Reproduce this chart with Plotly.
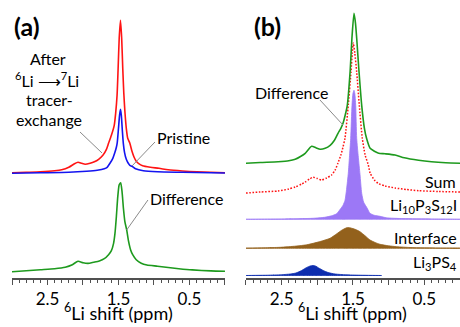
import plotly.graph_objects as go

# ---------------- data (ppm, intensity in arbitrary units) ----------------
# Panel (a)
A_AFTER_PPM = [3.0, 2.8, 2.6, 2.4, 2.3, 2.2, 2.12, 2.07, 2.02, 1.97, 1.9, 1.84, 1.78, 1.72, 1.67, 1.64,
               1.6, 1.56, 1.54, 1.52, 1.505, 1.49, 1.472, 1.455, 1.44, 1.425, 1.41, 1.39, 1.37, 1.34,
               1.31, 1.28, 1.25, 1.22, 1.16, 1.05, 0.93, 0.8, 0.6, 0.4, 0.2, 0.0]
A_AFTER_H = [0.5, 1, 1.5, 2.5, 3.5, 6, 9.5, 11, 10, 9, 10, 11.5, 14, 18, 24, 30,
             38, 48, 60, 78, 105, 135, 153, 135, 105, 80, 62, 45, 35, 30,
             22, 16, 12, 10, 7.5, 6, 5, 3.5, 2.3, 1.5, 1, 0.5]

A_PRIS_PPM = [3.0, 2.6, 2.2, 1.95, 1.8, 1.7, 1.66, 1.62, 1.58, 1.55, 1.53, 1.517, 1.5, 1.485, 1.472,
              1.46, 1.445, 1.432, 1.415, 1.39, 1.362, 1.34, 1.31, 1.26, 1.15, 0.95, 0.6, 0.2, 0.0]
A_PRIS_H = [0, 0.5, 1, 2, 3, 4.5, 6, 10, 15, 21, 26, 31, 45, 58, 64,
            58, 42, 30, 21, 14, 10, 8, 7, 4.5, 2.5, 1.5, 1, 0.5, 0.3]

A_DIFF_PPM = [3.0, 2.8, 2.6, 2.4, 2.25, 2.15, 2.07, 2.0, 1.93, 1.85, 1.77, 1.7, 1.64, 1.6, 1.57,
              1.55, 1.53, 1.51, 1.49, 1.469, 1.45, 1.43, 1.41, 1.385, 1.36, 1.33, 1.3, 1.25, 1.18,
              1.1, 0.95, 0.83, 0.65, 0.46, 0.2, 0.0]
A_DIFF_H = [0, 1, 2, 3, 4.5, 7, 10.5, 9, 8.3, 9.5, 10.8, 13, 17, 21, 28,
            38, 55, 75, 87, 89, 80, 63, 50, 42, 31, 22, 17, 12, 8.5,
            6.7, 5.5, 4.4, 3, 1.8, 0.8, 0.5]

# Panel (b)
B_DIFF_PPM = [3.0, 2.8, 2.55, 2.4, 2.31, 2.23, 2.17, 2.08, 2.02, 1.96, 1.89, 1.82, 1.76, 1.71, 1.67,
              1.64, 1.61, 1.58, 1.54, 1.515, 1.486, 1.465, 1.448, 1.416, 1.378, 1.34, 1.31, 1.26,
              1.2, 1.14, 1.05, 0.91, 0.78, 0.58, 0.4, 0.2, 0.0]
B_DIFF_H = [0, 0.8, 1.6, 2.5, 4, 7, 10, 17, 15.5, 14, 15, 18, 23, 30, 35,
            40, 48, 58, 92, 125, 150, 140, 125, 92, 58, 35, 25, 15,
            12, 10, 9.5, 8.3, 5.5, 3, 1.5, 0.5, 0]

B_SUM_PPM = [3.0, 2.8, 2.55, 2.4, 2.31, 2.22, 2.17, 2.11, 2.06, 2.0, 1.94, 1.87, 1.8, 1.75, 1.71,
             1.67, 1.64, 1.612, 1.566, 1.528, 1.51, 1.496, 1.475, 1.448, 1.412, 1.37, 1.33, 1.285,
             1.26, 1.2, 1.145, 1.05, 0.91, 0.75, 0.58, 0.3, 0.0]
B_SUM_H = [0, 1, 2, 4, 6, 9, 11, 14, 15.7, 14.5, 13, 15, 18, 23, 30,
           38, 46, 55, 88, 121, 140, 150, 140, 121, 88, 55, 38, 28,
           20, 13, 9.5, 7, 5, 3.5, 2.3, 1.5, 1]

B_LPSI_PPM = [3.0, 2.5, 2.06, 1.9, 1.8, 1.73, 1.68, 1.64, 1.612, 1.59, 1.566, 1.55, 1.532, 1.514, 1.5,
              1.486, 1.475, 1.462, 1.448, 1.425, 1.402, 1.378, 1.35, 1.3, 1.262, 1.2, 1.121, 1.03,
              0.8, 0.4, 0.0]
B_LPSI_H = [0, 0.3, 1, 2, 3.5, 5.5, 10, 14, 19, 30, 46, 62, 81, 114, 126,
            129, 126, 114, 81, 62, 45, 26, 17, 11, 6, 4, 3, 1.5,
            0.7, 0.3, 0]

B_INTF_PPM = [3.0, 2.75, 2.52, 2.3, 2.15, 2.057, 1.95, 1.822, 1.728, 1.66, 1.6, 1.566, 1.53, 1.47,
              1.402, 1.33, 1.262, 1.19, 1.121, 1.0, 0.887, 0.7, 0.519, 0.25, 0.0]
B_INTF_H = [0.2, 0.5, 1, 2.2, 3.5, 5, 7, 10, 14.5, 18, 20.2, 20.7, 20.3, 19,
            16.6, 12.5, 8.3, 5.8, 4, 2.5, 1.6, 0.8, 0.5, 0.3, 0.2]

B_LPS_PPM = [3.0, 2.7, 2.5, 2.38, 2.3, 2.22, 2.15, 2.1, 2.057, 2.02, 1.98, 1.916, 1.85, 1.75, 1.6, 1.4, 1.1]
B_LPS_H = [0, 0.3, 0.8, 1.5, 2.5, 5, 8, 9.5, 10, 9.3, 7.5, 5, 3, 1.5, 0.7, 0.3, 0]

TICK_VALS = [3.0, 2.5, 2.0, 1.5, 1.0, 0.5, 0.0]
TICK_TEXT = ["", "2.5", "", "1.5", "", "0.5", ""]

# ---------------- layout constants ----------------
FONT = "Lato, 'Open Sans', sans-serif"
OFF_A_TOP = 104.7
OFF_A_DIFF = 6.3
OFF_B = {"diff": 114.7, "sum": 85.0, "lpsi": 58.7, "intf": 29.7, "lps": 2.5}

RED = "#FF1414"
BLUE = "#1414F0"
GREEN = "#1E9A1E"
PURPLE = "#9C78F6"
BROWN = "#93611C"
DKBLUE = "#0D2DAE"

fig = go.Figure()


def shifted(h, off):
    return [v + off for v in h]


def line(x, h, off, color, xa, ya, dash=None, width=1.6):
    fig.add_trace(go.Scatter(x=x, y=shifted(h, off), mode="lines", xaxis=xa, yaxis=ya,
                             line=dict(color=color, width=width, shape="spline", smoothing=0.6,
                                       dash=dash),
                             hoverinfo="skip", showlegend=False))


def filled(x, h, off, color, xa, ya):
    xs = list(x) + list(reversed(x))
    ys = shifted(h, off) + [off] * len(x)
    fig.add_trace(go.Scatter(x=xs, y=ys, mode="lines", xaxis=xa, yaxis=ya, fill="toself",
                             fillcolor=color,
                             line=dict(color=color, width=0.8, shape="spline", smoothing=0.6),
                             hoverinfo="skip", showlegend=False))


# panel (a)
line(A_AFTER_PPM, A_AFTER_H, OFF_A_TOP, RED, "x", "y")
line(A_PRIS_PPM, A_PRIS_H, OFF_A_TOP, BLUE, "x", "y")
line(A_DIFF_PPM, A_DIFF_H, OFF_A_DIFF, GREEN, "x", "y")

# panel (b)
filled(B_LPS_PPM, B_LPS_H, OFF_B["lps"], DKBLUE, "x2", "y2")
filled(B_INTF_PPM, B_INTF_H, OFF_B["intf"], BROWN, "x2", "y2")
filled(B_LPSI_PPM, B_LPSI_H, OFF_B["lpsi"], PURPLE, "x2", "y2")
line(B_SUM_PPM, B_SUM_H, OFF_B["sum"], RED, "x2", "y2", dash="1.6px,1.6px", width=1.5)
line(B_DIFF_PPM, B_DIFF_H, OFF_B["diff"], GREEN, "x2", "y2")

axis_common = dict(
    range=[3.0, 0.0], showline=True, linecolor="#505050", linewidth=1.5,
    ticks="outside", ticklen=5, tickwidth=1.2, tickcolor="#505050",
    tickvals=TICK_VALS, ticktext=TICK_TEXT,
    tickfont=dict(family=FONT, size=17, color="black"),
    minor=dict(dtick=0.1, ticks="outside", ticklen=3, tickwidth=1, tickcolor="#505050"),
    showgrid=False, zeroline=False, fixedrange=True,
)
yaxis_common = dict(range=[0, 278], visible=False, fixedrange=True)

fig.update_layout(
    width=460, height=327,
    margin=dict(l=12, r=0, t=0, b=49),
    paper_bgcolor="white", plot_bgcolor="white",
    xaxis=dict(domain=[0, 0.4754], anchor="y", **axis_common),
    xaxis2=dict(domain=[0.5223, 1.0], anchor="y2", **axis_common),
    yaxis=dict(domain=[0, 1], anchor="x", **yaxis_common),
    yaxis2=dict(domain=[0, 1], anchor="x2", **yaxis_common),
    font=dict(family=FONT, size=16, color="black"),
)

# leader lines (data coordinates)
LEADERS = [
    ("x", "y", 2.042, 146, 1.732, 125),
    ("x", "y", 0.986, 136, 1.31, 112),
    ("x", "y", 1.085, 78, 1.385, 48),
    ("x2", "y2", 1.963, 178, 1.64, 153),
]
for xr, yr, x0, y0, x1, y1 in LEADERS:
    fig.add_shape(type="line", xref=xr, yref=yr, x0=x0, y0=y0, x1=x1, y1=y1,
                  line=dict(color="#8a8a8a", width=1))

LABELS = [
    ("x", "y", 3.0, 252, "<b>(a)</b>", "left", 25),
    ("x2", "y2", 2.92, 252, "<b>(b)</b>", "left", 25),
    ("x", "y", 2.5, 219.5, "After", "center", 16),
    ("x", "y", 2.514, 199, "<sup>6</sup>Li ⟶<sup>7</sup>Li", "center", 16),
    ("x", "y", 2.465, 179, "tracer-", "center", 16),
    ("x", "y", 2.479, 159, "exchange", "center", 16),
    ("x", "y", 0.986, 141, "Pristine", "left", 16),
    ("x", "y", 1.085, 80, "Difference", "left", 16),
    ("x2", "y2", 2.902, 186, "Difference", "left", 16),
    ("x2", "y2", 0.028, 97, "Sum", "right", 16),
    ("x2", "y2", 0.014, 73, "Li<sub>10</sub>P<sub>3</sub>S<sub>12</sub>I", "right", 16),
    ("x2", "y2", 0.014, 41, "Interface", "right", 16),
    ("x2", "y2", 0.014, 16, "Li<sub>3</sub>PS<sub>4</sub>", "right", 16),
]
for xr, yr, x, y, txt, anchor, size in LABELS:
    fig.add_annotation(xref=xr, yref=yr, x=x, y=y, text=txt, showarrow=False,
                       xanchor=anchor, yanchor="middle",
                       font=dict(family=FONT, size=size, color="black"))

# axis titles
for xr in ("x domain", "x2 domain"):
    fig.add_annotation(xref=xr, yref="paper", x=0.5, y=0,
                       yanchor="bottom", yshift=-48, showarrow=False,
                       text="<sup>6</sup>Li shift (ppm)",
                       font=dict(family=FONT, size=18, color="black"))

fig.write_html("out.html")
